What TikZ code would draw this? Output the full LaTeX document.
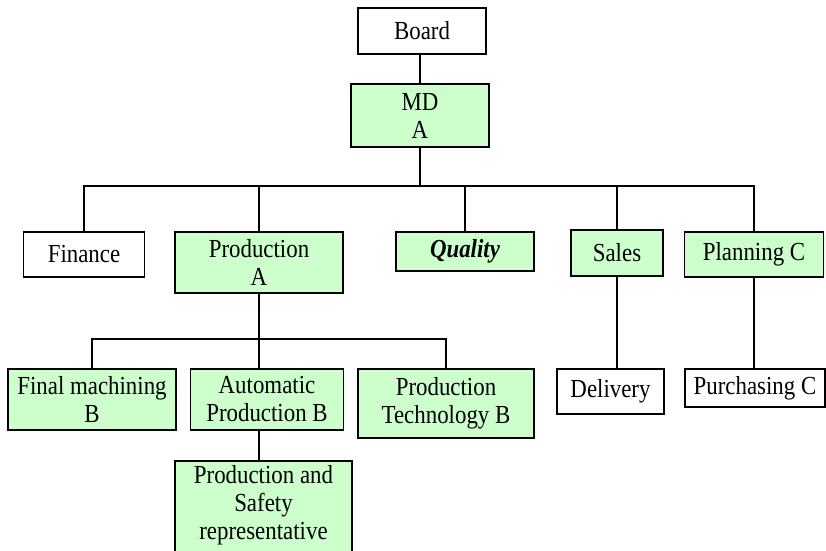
\documentclass[tikz,border=0pt]{standalone}
\usepackage{fontspec}
\setmainfont{Liberation Serif}[FakeStretch=0.88]
\usepackage{tikz}
\usepackage{xcolor}
\definecolor{unitgreen}{HTML}{CCFFCC}

\begin{document}
\begin{tikzpicture}[x=1pt,y=-1pt,
    unit/.style={draw=black,line width=1.8pt,inner sep=0pt,align=center,
      font=\fontsize{26}{28}\selectfont},
    greenunit/.style={unit,fill=unitgreen},
    link/.style={line width=1.8pt}]
            \useasboundingbox (0,0) rectangle (826,550);
            \node[unit,minimum width=128,minimum height=46] (board) at (422,31) {Board};
            \node[greenunit,minimum width=138,minimum height=63] (md) at (420,115.5) {MD\\A};
            \node[unit,minimum width=121,minimum height=45] (finance) at (84,254.5) {Finance};
            \node[greenunit,minimum width=168,minimum height=61] (prod) at (259,262.5) {Production\\A};
            \node[greenunit,minimum width=138,minimum height=39] (quality) at (465,251.5) {\textbf{\textit{Quality}}};
            \node[greenunit,minimum width=92,minimum height=46] (sales) at (617,253) {Sales};
            \node[greenunit,minimum width=139,minimum height=45] (planning) at (754,254.5) {Planning C};
            \node[greenunit,minimum width=168,minimum height=61] (final) at (92,399.5) {Final machining\\B};
            \node[greenunit,minimum width=153,minimum height=61] (auto) at (267,399.5) {Automatic\\Production B};
            \node[greenunit,minimum width=176,minimum height=69] (tech) at (446,403.5) {Production\\Technology B};
            \node[unit,minimum width=107,minimum height=45] (delivery) at (610.5,391.5) {Delivery};
            \node[unit,minimum width=140,minimum height=38] (purchasing) at (755,388) {Purchasing C};
            \node[greenunit,minimum width=177,inner ysep=5pt,text depth=40pt,anchor=north] (safety) at (263.5,460) {Production and\\Safety\\representative};
            \coordinate (bus) at (420,186);
            \coordinate (pbus) at (259,339);
            \draw[link] (md.north) -- (md.north |- board.south);
            \draw[link] (md) -- (bus);
            \draw[link] (finance.north) |- (bus) -| (planning.north);
            \draw[link] (prod.north) -- (prod.north |- bus);
            \draw[link] (quality.north) -- (quality.north |- bus);
            \draw[link] (sales.north) -- (sales.north |- bus);
            \draw[link] (prod.south) -- (pbus);
            \draw[link] (final.north) |- (pbus) -| (tech.north);
            \draw[link] (pbus) -- (pbus |- auto.north);
            \draw[link] (auto.south -| pbus) -- (safety.north -| pbus);
            \draw[link] (sales.south) -- (sales.south |- delivery.north);
            \draw[link] (planning.south) -- (planning.south |- purchasing.north);
        \end{tikzpicture}
\end{document}
